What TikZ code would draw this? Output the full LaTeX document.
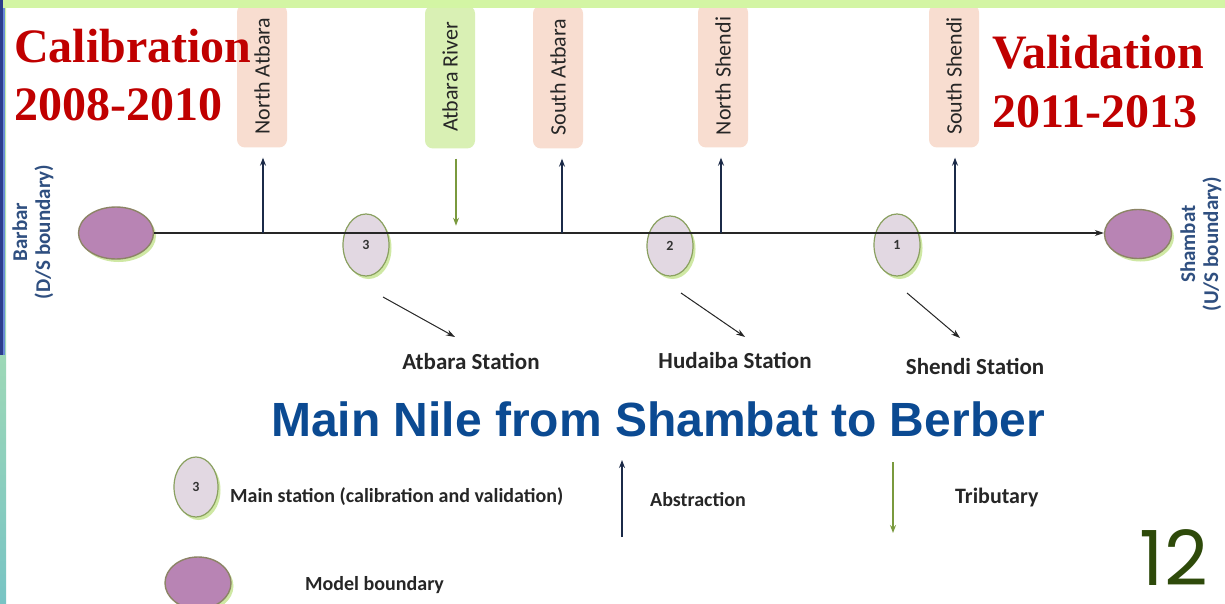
\documentclass[tikz,border=0pt]{standalone}
\usepackage{graphicx}
\usepackage{fontspec}
\setmainfont{Carlito}
\newfontfamily\serifb{Liberation Serif}
\newfontfamily\arialf{Liberation Sans}
\newfontfamily\numf{Poppins}
\usetikzlibrary{arrows.meta,shapes.geometric,shadows}
\definecolor{band}{HTML}{D3F5A4}
\definecolor{navybar}{HTML}{2C3E8C}
\definecolor{lightbar}{HTML}{6A8AD8}
\definecolor{stfill}{HTML}{E2D8E2}
\definecolor{stborder}{HTML}{8AA060}
\definecolor{bdfill}{HTML}{B884B4}
\definecolor{bdborder}{HTML}{8C8466}
\definecolor{shgreen}{HTML}{CFE8A4}
\definecolor{peach}{HTML}{F8DDD0}
\definecolor{lgreen}{HTML}{D9F0B4}
\definecolor{navy}{HTML}{1B2A48}
\definecolor{olivearr}{HTML}{7A9A3E}
\definecolor{calred}{HTML}{C00000}
\definecolor{titleblue}{HTML}{0B4A92}
\definecolor{numgreen}{HTML}{2E4A0A}
\definecolor{lblblue}{HTML}{2F4F80}
\begin{document}
\begin{tikzpicture}[x=1pt,y=-1pt,
  gshadow/.style={drop shadow={shadow xshift=2.5pt,shadow yshift=-3pt,fill=shgreen,opacity=1}},
  station/.style={ellipse, draw=stborder, line width=1.2pt, fill=stfill,
    minimum width=46pt, minimum height=62pt, inner sep=0pt, gshadow,
    font=\bfseries\fontsize{14}{14}\selectfont, text=black!80},
  boundary/.style={ellipse, draw=bdborder, line width=1.4pt, fill=bdfill,
    minimum width=75pt, minimum height=52pt, inner sep=0pt, gshadow},
  tag/.style={rounded corners=8pt, fill=peach, minimum width=50pt,
    minimum height=143pt, inner sep=0pt, font=\fontsize{22}{22}\selectfont, text=black!85},
  abs/.style={-{Stealth[length=8pt,width=6pt]}, draw=navy, line width=1.1pt},
  trib/.style={-{Stealth[length=8pt,width=6pt]}, draw=olivearr, line width=1.1pt},
  ptr/.style={-{Stealth[length=9pt,width=6pt]}, draw=black!85, line width=1pt},
  stlabel/.style={font=\bfseries\fontsize{23}{23}\selectfont, text=black!85, inner sep=0pt},
  leglabel/.style={font=\bfseries\fontsize{20}{20}\selectfont, text=black!85, inner sep=0pt, anchor=west},
  redlabel/.style={font=\serifb\bfseries\fontsize{48}{48}\selectfont, text=calred, inner sep=0pt, anchor=base west},
  sidelabel/.style={font=\bfseries\fontsize{21}{23}\selectfont, text=lblblue, inner sep=0pt, align=center}
]
\useasboundingbox (0,0) rectangle (1225,604);
\fill[white] (0,0) rectangle (1225,604);

% tributary / abstraction boxes
\node[tag] (na) at (262,76) {\rotatebox{90}{North Atbara}};
\node[tag, fill=lgreen] (ar) at (450,77) {\rotatebox{90}{Atbara River}};
\node[tag] (sa) at (558,77) {\rotatebox{90}{South Atbara}};
\node[tag] (ns) at (723,76) {\rotatebox{90}{North Shendi}};
\node[tag] (ss) at (954,76) {\rotatebox{90}{South Shendi}};

% top band and left strip
\fill[band] (0,0) rectangle (1225,8);
\shade[top color=band, bottom color={rgb,255:red,120;green,196;blue,196}] (0,0) rectangle (6,604);
\fill[navybar] (0,0) rectangle (3,355);
\fill[lightbar] (3,8) rectangle (5,355);

% boundaries and stations
\node[boundary] (barbar) at (116,233) {};
\node[boundary, minimum width=67pt, minimum height=49pt] (shambat) at (1138,234) {};
\node[station] (s3) at (366,245) {3};
\node[station, minimum height=60pt] (s2) at (670,246) {2};
\node[station] (s1) at (897,245) {1};

\coordinate (rv) at (0,233);
\draw[-{Stealth[length=9pt,width=6pt]}, draw=black!85, line width=1.3pt] (barbar.east |- rv) -- (shambat.west |- rv);

% abstractions and tributary
\draw[abs] ([xshift=1pt]na.south |- rv) -- ([xshift=1pt,yshift=-10pt]na.south);
\draw[abs] ([xshift=4pt]sa.south |- rv) -- ([xshift=4pt,yshift=-10pt]sa.south);
\draw[abs] ([xshift=-2pt]ns.south |- rv) -- ([xshift=-2pt,yshift=-10pt]ns.south);
\draw[abs] ([xshift=1pt]ss.south |- rv) -- ([xshift=1pt,yshift=-10pt]ss.south);
\draw[trib] ([xshift=6pt,yshift=-10pt]ar.south) -- ([xshift=6pt,yshift=-77pt]ar.south);

% station labels and pointers
\node[stlabel] (atl) at (471,361) {Atbara Station};
\node[stlabel] (hul) at (735,360) {Hudaiba Station};
\node[stlabel] (shl) at (975,366) {Shendi Station};
\coordinate (p3a) at (383,297);
\coordinate (p3b) at (455,337);
\coordinate (p2a) at (681,293);
\coordinate (p2b) at (745,337);
\coordinate (p1a) at (907,293);
\coordinate (p1b) at (960,338);
\draw[ptr] (p3a) -- (p3b);
\draw[ptr] (p2a) -- (p2b);
\draw[ptr] (p1a) -- (p1b);

% side labels
\node[sidelabel, rotate=90] (bl) at (33,232) {Barbar\\(D/S boundary)};
\node[sidelabel, rotate=90] (shb) at (1201,244) {Shambat\\(U/S boundary)};

% red texts
\node[redlabel] (cal1) at (14,63) {Calibration};
\node[redlabel] (cal2) at (14,121) {2008-2010};
\node[redlabel] (val1) at (992,69) {Validation};
\node[redlabel] (val2) at (992,128) {2011-2013};

% title
\node[font=\arialf\bfseries\fontsize{48}{48}\selectfont, text=titleblue, inner sep=0pt] (title) at (658,419) {Main Nile from Shambat to Berber};

% legend
\node[station, minimum width=44pt, minimum height=60pt] (lg3) at (196,487) {3};
\node[leglabel] (lg3t) at (230,497) {Main station (calibration and validation)};
\node[boundary, minimum width=66pt, minimum height=52pt] (lgb) at (198,583) {};
\node[leglabel] (lgbt) at (305,585) {Model boundary};
\coordinate (abA) at (622,537);
\coordinate (abB) at (622,460);
\draw[abs, line width=1.2pt] (abA) -- (abB);
\node[leglabel] (abt) at (650,500) {Abstraction};
\coordinate (trA) at (893,462);
\coordinate (trB) at (893,533);
\draw[trib, line width=1.2pt] (trA) -- (trB);
\node[leglabel, font=\bfseries\fontsize{22}{22}\selectfont] (trt) at (955,498) {Tributary};

% page number
\node[font=\numf\fontsize{76}{76}\selectfont, text=numgreen, inner sep=0pt, anchor=base east] (pg) at (1208,585) {12};
\end{tikzpicture}
\end{document}
